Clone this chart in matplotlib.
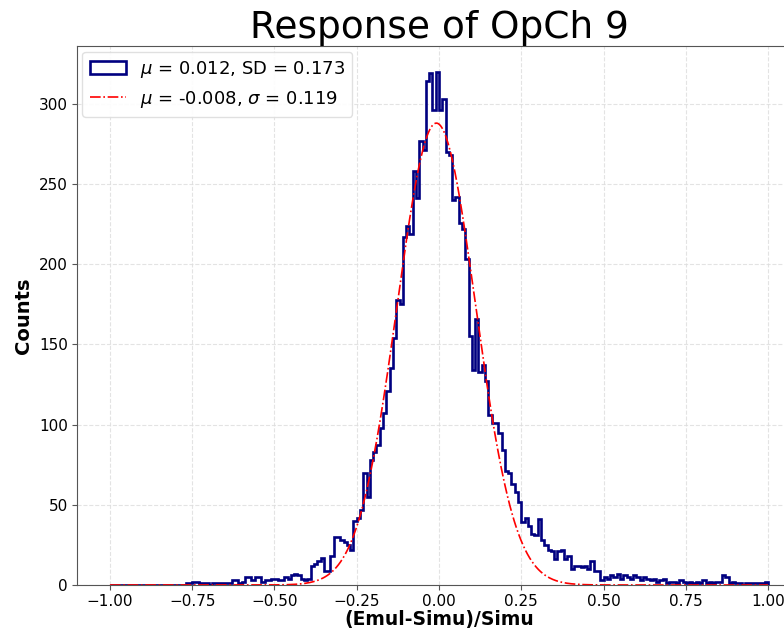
import numpy as np
import matplotlib
matplotlib.use("Agg")
import matplotlib.pyplot as plt

# bin edges: 200 bins of width 0.01 between -1 and 1
edges = np.linspace(-1.0, 1.0, 201)

# counts per bin (left tail, core, right tail)
left_tail = [0] * 23 + [1, 1, 2, 2, 1, 1, 1, 0, 1, 1, 1, 1, 1, 1,
                        3, 3, 1, 2, 5, 5, 3, 5, 5, 2, 3, 3, 4, 4, 3, 3, 5, 4,
                        6, 7, 6, 4, 3, 4, 12, 13, 15, 17, 9, 9, 18, 30, 30, 28, 27, 25, 22, 40]
core = [42, 47, 70, 55, 78, 83, 87, 98, 107, 121, 135, 154, 178, 175, 217, 224, 219, 258, 241, 277,
        271, 314, 319, 296, 320, 296, 303, 270, 268, 240, 242, 226, 222, 203, 155, 134, 166, 133, 137, 127,
        106, 101, 101, 95, 84, 71, 70, 63, 58, 52, 39, 42, 37, 32, 31, 41, 28, 25, 22, 21]
right_tail = [16, 21, 22, 16, 18, 10, 12, 12, 11, 12, 10, 15, 9, 9,
              3, 5, 4, 6, 5, 7, 4, 6, 5, 4, 6, 5, 3, 5, 4, 3, 4, 2, 3, 4,
              1, 2, 2, 1, 3, 2, 1, 2, 1, 2, 1, 3, 1, 2, 1, 2, 2,
              6, 5,
              1, 2, 1, 1, 0, 1, 1, 1, 1, 1, 1, 2]
counts = np.array(left_tail + core + right_tail)

# gaussian fit parameters shown in the legend
fit_mu = -0.008
fit_sigma = 0.119
fit_amp = 288.0
data_mu = 0.012
data_sd = 0.173

fig = plt.figure(figsize=(7.84, 6.31), dpi=100)
ax = fig.add_axes([0.0982, 0.0729, 0.9235, 0.854])

ax.hist(edges[:-1], bins=edges, weights=counts, histtype="step",
        color="navy", lw=1.9,
        label=r"$\mu$ = %.3f, SD = %.3f" % (data_mu, data_sd))
xs = np.linspace(-1.0, 1.0, 600)
ax.plot(xs, fit_amp * np.exp(-0.5 * ((xs - fit_mu) / fit_sigma) ** 2),
        color="red", ls="-.", lw=1.2,
        label=r"$\mu$ = %.3f, $\sigma$ = %.3f" % (fit_mu, fit_sigma))

ax.set_xlim(-1.1, 1.1)
ax.set_ylim(0, 336)
ax.set_xticks(np.arange(-1.0, 1.01, 0.25))
ax.set_yticks(np.arange(0, 301, 50))
ax.tick_params(labelsize=11, color="#555555", pad=3)
for s in ax.spines.values():
    s.set_color("#555555")
ax.grid(True, ls="--", color="#dddddd", lw=0.8, alpha=0.8)
ax.set_axisbelow(True)

ax.set_title("Response of OpCh 9", fontsize=27)
ax.set_xlabel("(Emul-Simu)/Simu", fontsize=13.5, fontweight="bold", labelpad=1)
ax.set_ylabel("Counts", fontsize=14, fontweight="bold")
ax.legend(loc="upper left", fontsize=13, framealpha=0.9, edgecolor="#dddddd",
          borderaxespad=0.3)

fig.savefig("out.png", dpi=100)
